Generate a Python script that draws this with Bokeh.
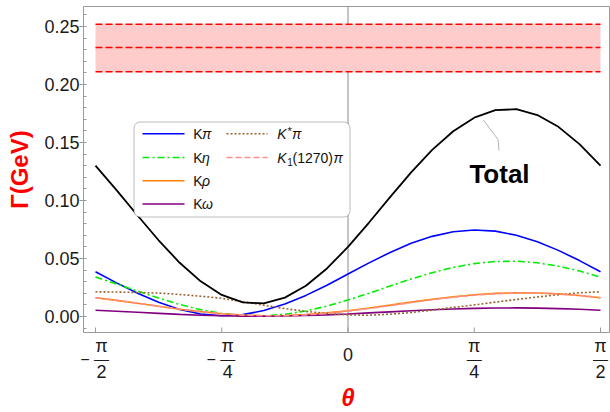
import numpy as np
from bokeh.plotting import figure
from bokeh.layouts import column
from bokeh.models import (Range1d, SingleIntervalTicker, PrintfTickFormatter,
                          Label, Span, BoxAnnotation)
from bokeh.embed import file_html
from bokeh.resources import INLINE

# ---------------- data ----------------
theta = np.linspace(-np.pi / 2, np.pi / 2, 25)

total = [0.1300, 0.1090, 0.0871, 0.0657, 0.0463, 0.0303, 0.0186, 0.0121, 0.0113, 0.0163,
         0.0265, 0.0414, 0.0600, 0.0810, 0.1029, 0.1243, 0.1437, 0.1597, 0.1714, 0.1779,
         0.1787, 0.1737, 0.1635, 0.1486, 0.1300]
k_pi = [0.0386, 0.0290, 0.0200, 0.0122, 0.0061, 0.0021, 0.0006, 0.0016, 0.0051, 0.0107,
        0.0182, 0.0270, 0.0366, 0.0462, 0.0552, 0.0631, 0.0691, 0.0731, 0.0746, 0.0736,
        0.0701, 0.0645, 0.0570, 0.0482, 0.0386]
k_eta = [0.0340, 0.0281, 0.0219, 0.0159, 0.0104, 0.0059, 0.0026, 0.0008, 0.0005, 0.0019,
         0.0048, 0.0090, 0.0142, 0.0201, 0.0263, 0.0323, 0.0378, 0.0423, 0.0456, 0.0474,
         0.0477, 0.0463, 0.0434, 0.0392, 0.0340]
k_rho = [0.0162, 0.0139, 0.0114, 0.0088, 0.0063, 0.0042, 0.0024, 0.0013, 0.0007, 0.0009,
         0.0017, 0.0031, 0.0050, 0.0073, 0.0098, 0.0124, 0.0149, 0.0170, 0.0188, 0.0199,
         0.0205, 0.0203, 0.0195, 0.0181, 0.0162]
k_omega = [0.0054, 0.0045, 0.0036, 0.0027, 0.0018, 0.0011, 0.0006, 0.0003, 0.0002, 0.0004,
           0.0008, 0.0014, 0.0022, 0.0031, 0.0040, 0.0049, 0.0058, 0.0065, 0.0070, 0.0073,
           0.0074, 0.0072, 0.0068, 0.0062, 0.0054]
k_star_pi = [0.0213, 0.0211, 0.0207, 0.0202, 0.0190, 0.0175, 0.0157, 0.0128, 0.0097, 0.0068,
             0.0044, 0.0026, 0.0014, 0.0011, 0.0020, 0.0034, 0.0055, 0.0078, 0.0100, 0.0124,
             0.0147, 0.0168, 0.0188, 0.0204, 0.0213]
k1_pi = [0.0162, 0.0139, 0.0114, 0.0088, 0.0064, 0.0042, 0.0024, 0.0012, 0.0006, 0.0006,
         0.0014, 0.0027, 0.0046, 0.0069, 0.0094, 0.0120, 0.0144, 0.0166, 0.0184, 0.0196,
         0.0202, 0.0202, 0.0194, 0.0181, 0.0162]

band_x = [-np.pi / 2, np.pi / 2]
band_lo, band_mid, band_hi = 0.211, 0.232, 0.252

x_ticks = [-np.pi / 2, -np.pi / 4, 0.0, np.pi / 4, np.pi / 2]
x_tick_num = ["π", "π", "0", "π", "π"]
x_tick_den = ["2", "4", "", "4", "2"]
x_tick_neg = [True, True, False, False, False]

# ---------------- layout helpers (canvas pixels -> data) ----------------
X0, SX = 347.5, 160.75
Y0, SY = 316.0, 1160.0
P1_H = 333
TOTAL_H = 412


def px2x(px):
    return (px - X0) / SX


def py2y(py):
    return (Y0 - py) / SY


def py2s(py):  # page y -> strip (p2) data y
    return TOTAL_H - py


FONT = "Liberation Sans"
TXT = "#1a1a1a"
GRAY = "#9a9a9a"

# ---------------- main plot ----------------
p = figure(width=610, height=P1_H, output_backend="svg", toolbar_location=None,
           x_range=Range1d(px2x(83), px2x(610)), y_range=Range1d(py2y(332), py2y(6)),
           min_border_left=83, min_border_right=0, min_border_top=6, min_border_bottom=1)
p.frame_align = False
p.outline_line_color = GRAY
p.xgrid.visible = False
p.ygrid.visible = False
p.background_fill_color = "white"
p.border_fill_color = "white"
p.xaxis.visible = False

ya = p.yaxis[0]
ya.ticker = SingleIntervalTicker(interval=0.05, num_minor_ticks=5)
ya.formatter = PrintfTickFormatter(format="%.2f")
ya.axis_line_color = GRAY
ya.major_tick_line_color = GRAY
ya.minor_tick_line_color = GRAY
ya.major_tick_out = 4
ya.major_tick_in = 0
ya.minor_tick_out = 0
ya.minor_tick_in = 3
ya.major_label_standoff = 0
ya.major_label_text_font = FONT
ya.major_label_text_font_size = "18px"
ya.major_label_text_color = TXT
ya.axis_label = "Γ(GeV)"
ya.axis_label_text_font = FONT
ya.axis_label_text_font_size = "24px"
ya.axis_label_text_font_style = "bold"
ya.axis_label_text_color = "#ff0000"
ya.axis_label_standoff = 8

# bottom frame ticks (pointing inward) at the x tick values
p.segment(x0=x_ticks, x1=x_ticks, y0=[py2y(332)] * len(x_ticks), y1=[py2y(327)] * len(x_ticks),
          line_color=GRAY, line_width=1)

p.add_layout(Span(location=0, dimension="height", line_color="#8a8a8a", line_width=1,
                  level="underlay"))

# band
p.varea(x=band_x, y1=[band_lo, band_lo], y2=[band_hi, band_hi], fill_color="#ffcccc")
for v in (band_lo, band_mid, band_hi):
    p.line(x=band_x, y=[v, v], line_color="#ff0000", line_width=1.5, line_dash="7 3")

# curves
p.line(theta, k_pi, line_color="#0000ff", line_width=1.6)
p.line(theta, k_eta, line_color="#00ee00", line_width=1.6, line_dash="7 3 2 3")
p.line(theta, k_rho, line_color="#ff8000", line_width=1.6)
p.line(theta, k_omega, line_color="#800080", line_width=1.6)
p.line(theta, k_star_pi, line_color="#996633", line_width=1.6, line_dash="2 2")
p.line(theta, k1_pi, line_color="#ff9090", line_width=1.6, line_dash="6 3")
p.line(theta, total, line_color="#000000", line_width=1.8)

# Total label with leader
p.line(x=[px2x(483), px2x(497.5), px2x(498.5)], y=[py2y(119.5), py2y(139), py2y(150)],
       line_color="#b4b4b4", line_width=1)
p.add_layout(Label(x=px2x(499), y=py2y(173.3), text="Total", text_font=FONT,
                   text_font_size="26px", text_font_style="bold", text_color="black",
                   text_align="center", text_baseline="alphabetic"))

# legend box
p.add_layout(BoxAnnotation(left=px2x(133.5), right=px2x(349.5), top=py2y(121.5),
                           bottom=py2y(216.5), fill_color="white", fill_alpha=1.0,
                           line_color="#222222", line_width=1, border_radius=6))

rows = [133.3, 157.0, 180.3, 203.5]
c1 = (142, 184)
c2 = (226, 267)
legend_lines = [
    (c1, rows[0], "#0000ff", "solid"),
    (c1, rows[1], "#00ee00", "7 3 2 3"),
    (c1, rows[2], "#ff8000", "solid"),
    (c1, rows[3], "#800080", "solid"),
    (c2, rows[0], "#996633", "2 2"),
    (c2, rows[1], "#ff9090", "6 3"),
]
for (lx0, lx1), r, col, dash in legend_lines:
    p.line(x=[px2x(lx0), px2x(lx1)], y=[py2y(r)] * 2, line_color=col, line_width=1.6,
           line_dash=dash, level="overlay")


def lab(fig, x, y, text, size="14px", style="normal", align="left", baseline="middle",
        color="#111111", x_offset=0):
    fig.add_layout(Label(x=x, y=y, text=text, text_font=FONT, text_font_size=size,
                         text_font_style=style, text_color=color, text_align=align,
                         text_baseline=baseline, x_offset=x_offset))


greek = ["π", "η", "ρ", "ω"]
for r, g in zip(rows, greek):
    lab(p, px2x(192.7), py2y(r), "K")
    lab(p, px2x(201.5), py2y(r), g, style="italic")

lab(p, px2x(276.7), py2y(rows[0]), "K", style="italic")
lab(p, px2x(287.0), py2y(rows[0] - 3), "*", size="11px")
lab(p, px2x(291.5), py2y(rows[0]), "π", style="italic")

lab(p, px2x(276.7), py2y(rows[1]), "K", style="italic")
lab(p, px2x(286.8), py2y(rows[1] + 4), "1", size="10px")
lab(p, px2x(292.0), py2y(rows[1]), "(1270)")
lab(p, px2x(333.0), py2y(rows[1]), "π", style="italic")

# ---------------- strip below: x tick labels and x title ----------------
p2 = figure(width=610, height=TOTAL_H - P1_H, output_backend="svg", toolbar_location=None,
            x_range=Range1d(px2x(0), px2x(610)), y_range=Range1d(0, TOTAL_H - P1_H),
            x_axis_type=None, y_axis_type=None,
            min_border_left=0, min_border_right=0, min_border_top=0, min_border_bottom=0)
p2.frame_align = False
p2.outline_line_color = None
p2.xgrid.visible = False
p2.ygrid.visible = False
p2.background_fill_color = "white"
p2.border_fill_color = "white"

for t, num, den, neg in zip(x_ticks, x_tick_num, x_tick_den, x_tick_neg):
    if den == "":
        lab(p2, t, py2s(353.5), num, size="18px", align="center", baseline="alphabetic",
            color=TXT)
        continue
    off = 6 if neg else 0
    lab(p2, t, py2s(345.5), num, size="18px", align="center", baseline="alphabetic",
        color=TXT, x_offset=off)
    lab(p2, t, py2s(357.6), "—", size="15px", align="center", baseline="alphabetic",
        color=TXT, x_offset=off)
    lab(p2, t, py2s(370.5), den, size="18px", align="center", baseline="alphabetic",
        color=TXT, x_offset=off)
    if neg:
        lab(p2, t, py2s(358.4), "−", size="16px", align="center", baseline="alphabetic",
            color=TXT, x_offset=-10.5)

lab(p2, 0.0, py2s(397), "θ", size="24px", style="bold italic", align="center",
    baseline="middle", color="#ff0000")

layout = column(p, p2, spacing=0)
open("out.html", "w").write(file_html(layout, INLINE))
